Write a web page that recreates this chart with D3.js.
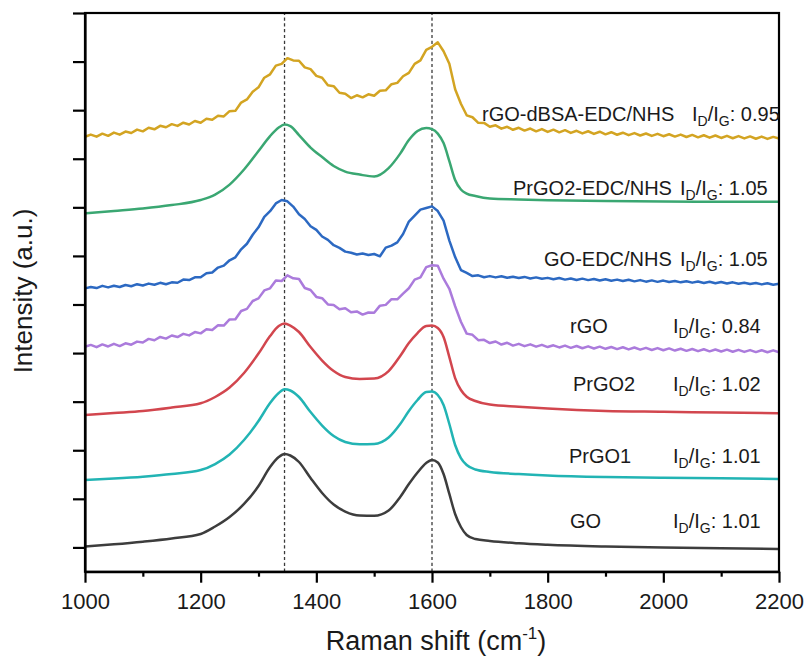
<!DOCTYPE html>
<html>
<head>
<meta charset="utf-8">
<script src="https://cdn.jsdelivr.net/npm/d3@7"></script>
<style>
  body { margin: 0; background: #ffffff; }
  svg text { font-family: Arial, "Liberation Sans", Helvetica, sans-serif; fill: #1a1a1a; }
</style>
</head>
<body>
<svg id="chart" width="808" height="663"></svg>
<script>
// Raman shift sampling (cm^-1): coarse grid for smooth spectra, 10 cm^-1 grid for noisy ones
const shiftCoarse = [1000, 1050, 1100, 1150, 1200, 1225, 1250, 1275, 1300, 1320,
  1335, 1345, 1355, 1370, 1390, 1410, 1430, 1450, 1475, 1500,
  1525, 1545, 1560, 1575, 1590, 1600, 1610, 1620, 1630, 1640,
  1650, 1660, 1675, 1700, 1750, 1800, 1900, 2000, 2100, 2200];

const shiftFine = [1000, 1010, 1020, 1030, 1040, 1050, 1060, 1070, 1080, 1090,
  1100, 1110, 1120, 1130, 1140, 1150, 1160, 1170, 1180, 1190,
  1200, 1210, 1220, 1230, 1240, 1250, 1260, 1270, 1280, 1290,
  1300, 1310, 1320, 1330, 1340, 1350, 1360, 1370, 1380, 1390,
  1400, 1410, 1420, 1430, 1440, 1450, 1460, 1470, 1480, 1490,
  1500, 1510, 1520, 1530, 1540, 1550, 1560, 1570, 1580, 1590,
  1600, 1610, 1620, 1630, 1640, 1650, 1660, 1670, 1680, 1690,
  1700, 1710, 1720, 1730, 1740, 1750, 1760, 1770, 1780, 1790,
  1800, 1810, 1820, 1830, 1840, 1850, 1860, 1870, 1880, 1890,
  1900, 1910, 1920, 1930, 1940, 1950, 1960, 1970, 1980, 1990,
  2000, 2010, 2020, 2030, 2040, 2050, 2060, 2070, 2080, 2090,
  2100, 2110, 2120, 2130, 2140, 2150, 2160, 2170, 2180, 2190,
  2200];

// Stacked intensities (a.u., offset per sample)
const goIntensity = [25.9, 28.2, 30.9, 34.2, 38.8, 46.5, 56.3, 69.7, 88.2, 107.7,
  118.0, 121.1, 119.6, 112.9, 96.4, 81.0, 69.1, 61.9, 57.8, 57.6,
  63.0, 76.9, 90.2, 102.1, 111.9, 114.9, 112.4, 100.5, 80.0, 59.4,
  46.0, 37.8, 33.6, 31.6, 29.2, 27.7, 25.9, 24.8, 24.1, 23.4];

const prgo1Intensity = [94.4, 95.9, 97.8, 100.5, 104.6, 110.8, 120.6, 135.5, 155.1, 173.6,
  183.9, 187.7, 186.5, 179.8, 164.3, 150.4, 139.6, 133.5, 131.1, 131.4,
  138.1, 152.0, 165.4, 176.7, 184.9, 185.4, 181.8, 171.5, 152.0, 130.4,
  117.0, 109.8, 105.2, 102.6, 100.5, 99.0, 97.4, 96.7, 96.1, 95.4];

const prgo2Intensity = [161.2, 163.3, 165.4, 169.0, 173.3, 179.8, 189.5, 204.5, 224.5, 242.5,
  252.8, 255.4, 253.3, 246.7, 231.2, 217.3, 206.5, 200.3, 198.3, 198.8,
  206.5, 222.0, 235.3, 245.6, 252.8, 253.3, 250.8, 241.5, 220.9, 199.3,
  187.0, 180.1, 175.7, 172.0, 169.8, 167.9, 165.4, 164.6, 163.8, 163.0];

const rgoIntensity = [231.5, 233.4, 231.1, 233.9, 231.8, 234.5, 232.2, 235.1, 233.6, 236.8,
  235.9, 239.6, 238.2, 241.6, 239.9, 243.1, 241.5, 244.8, 243.2, 246.6,
  245.3, 249.5, 248.8, 253.6, 253.3, 259.6, 259.8, 268.3, 270.5, 278.6,
  281.3, 289.5, 291.6, 299.6, 299.2, 305.0, 301.9, 301.2, 292.0, 289.9,
  282.8, 281.5, 275.1, 274.6, 270.2, 271.1, 267.0, 267.9, 264.6, 266.8,
  266.5, 273.8, 274.6, 280.5, 280.3, 286.2, 291.7, 300.6, 303.0, 313.4,
  315.4, 314.8, 301.5, 291.2, 273.2, 257.3, 245.0, 243.8, 238.3, 238.6,
  235.3, 236.9, 233.8, 235.6, 232.7, 234.5, 232.1, 234.0, 231.6, 233.5,
  231.2, 233.0, 230.8, 232.7, 230.4, 232.3, 230.0, 231.9, 229.7, 231.6,
  229.4, 231.3, 229.1, 231.0, 228.8, 230.7, 228.5, 230.4, 228.2, 230.1,
  227.9, 229.8, 227.6, 229.5, 227.3, 229.2, 227.0, 228.9, 226.8, 228.7,
  226.6, 228.5, 226.4, 228.3, 226.2, 228.1, 226.0, 227.9, 225.9, 227.8,
  225.8];

const goEdcIntensity = [291.6, 293.0, 291.9, 294.2, 292.6, 294.3, 293.0, 295.1, 293.8, 295.9,
  294.6, 296.5, 295.3, 297.3, 295.9, 297.8, 297.4, 300.6, 300.2, 303.0,
  303.1, 307.2, 308.0, 313.0, 315.0, 320.5, 323.6, 331.8, 337.5, 346.8,
  354.4, 365.2, 371.0, 379.0, 382.5, 381.2, 375.8, 367.9, 363.0, 355.6,
  351.8, 345.0, 341.5, 336.0, 333.3, 329.4, 328.3, 326.5, 327.5, 325.9,
  327.0, 324.6, 333.5, 335.6, 338.9, 347.6, 360.4, 366.5, 372.6, 374.3,
  376.0, 371.2, 361.3, 340.8, 323.8, 310.4, 307.5, 304.3, 305.0, 303.1,
  304.2, 302.9, 304.0, 302.5, 303.6, 302.2, 303.4, 301.8, 302.9, 301.5,
  302.4, 300.9, 302.2, 300.6, 301.8, 300.3, 301.6, 300.1, 301.2, 299.7,
  300.9, 299.4, 300.6, 299.1, 300.4, 298.8, 300.1, 298.5, 299.8, 298.3,
  299.6, 298.1, 299.2, 297.8, 299.0, 297.5, 298.6, 297.2, 298.4, 296.9,
  298.1, 296.6, 297.8, 296.3, 297.4, 296.0, 297.1, 295.7, 296.8, 295.4,
  296.4];

const prgo2EdcIntensity = [368.8, 371.2, 373.7, 377.3, 382.5, 388.1, 398.4, 413.9, 432.9, 448.3,
  457.1, 460.2, 458.6, 449.4, 436.5, 426.7, 417.5, 411.8, 408.7, 406.7,
  415.4, 430.3, 444.2, 453.5, 456.6, 455.5, 450.9, 441.1, 422.6, 403.1,
  393.3, 389.2, 386.6, 384.0, 383.0, 382.3, 381.4, 380.9, 380.8, 380.7];

const rgoDbsaIntensity = [447.6, 449.9, 447.7, 450.8, 448.6, 451.9, 449.8, 453.0, 451.5, 455.0,
  453.2, 456.9, 455.3, 458.9, 457.4, 460.6, 458.8, 462.1, 460.2, 463.9,
  462.0, 466.1, 465.2, 469.3, 468.6, 474.0, 474.3, 482.8, 486.1, 494.0,
  498.5, 508.4, 511.9, 520.8, 522.6, 528.5, 526.2, 525.9, 519.0, 517.2,
  510.3, 508.4, 500.6, 499.7, 492.9, 491.8, 487.5, 490.3, 488.2, 491.3,
  489.8, 495.0, 495.4, 501.7, 503.1, 509.9, 513.4, 522.7, 526.3, 537.1,
  540.2, 544.8, 535.6, 522.7, 496.5, 481.6, 469.7, 467.7, 462.0, 461.9,
  457.9, 459.4, 456.0, 457.9, 454.8, 456.9, 454.0, 456.1, 453.2, 455.5,
  452.6, 454.9, 452.2, 454.4, 451.6, 453.8, 451.1, 453.3, 450.6, 452.8,
  450.1, 452.3, 449.7, 451.8, 449.3, 451.4, 448.9, 451.0, 448.5, 450.6,
  448.2, 450.2, 447.8, 449.9, 447.4, 449.5, 447.0, 449.2, 446.7, 448.9,
  446.4, 448.6, 446.1, 448.3, 445.9, 448.0, 445.6, 447.8, 445.4, 447.5,
  445.9];

const sampleNames = ["GO", "PrGO1", "PrGO2", "rGO", "GO-EDC/NHS", "PrGO2-EDC/NHS", "rGO-dBSA-EDC/NHS"];
const idIgRatios = ["1.01", "1.01", "1.02", "0.84", "1.05", "1.05", "0.95"];
const peakPositions = [1345, 1600];   // D and G band guide lines
const xTickValues = [1000, 1200, 1400, 1600, 1800, 2000, 2200];
const xMinorTickValues = [1100, 1300, 1500, 1700, 1900, 2100];
const yTickValues = [25, 75, 125, 175, 225, 275, 325, 375, 425, 475, 525, 575];

// Appearance per sample
const sampleColors = ["#3d3d3d", "#22b4b4", "#d2464e", "#ab7bdc", "#2c69c2", "#3aa772", "#d3a422"];
const sampleGrids = [shiftCoarse, shiftCoarse, shiftCoarse, shiftFine, shiftFine, shiftCoarse, shiftFine];
const sampleValues = [goIntensity, prgo1Intensity, prgo2Intensity, rgoIntensity, goEdcIntensity, prgo2EdcIntensity, rgoDbsaIntensity];
const sampleSmooth = [true, true, true, false, false, true, false];

// Label anchors in data units: name start, ratio start (cm^-1) and baseline (a.u.)
const labelLayout = [
  { nameAt: 1838.6, ratioAt: 2016.7, level: 45.0 },
  { nameAt: 1836.9, ratioAt: 2016.7, level: 111.9 },
  { nameAt: 1843.8, ratioAt: 2016.7, level: 186.0 },
  { nameAt: 1838.6, ratioAt: 2016.7, level: 245.6 },
  { nameAt: 1793.7, ratioAt: 2028.8, level: 314.6 },
  { nameAt: 1740.1, ratioAt: 2028.8, level: 387.6 },
  { nameAt: 1686.5, ratioAt: 2049.6, level: 463.8 }
];

const svg = d3.select("#chart");
const width = 808, height = 663;
const plot = { left: 85, right: 779, top: 13, bottom: 571.7 };

svg.append("rect").attr("width", width).attr("height", height).attr("fill", "#ffffff");

const x = d3.scaleLinear().domain([1000, 2200]).range([plot.left, plot.right]);
const y = d3.scaleLinear().domain([0, 575]).range([plot.bottom, plot.top]);

// Dashed guide lines at the D and G bands
svg.append("g").selectAll("line")
  .data(peakPositions)
  .join("line")
  .attr("x1", d => x(d)).attr("x2", d => x(d))
  .attr("y1", y(0)).attr("y2", y(575))
  .attr("stroke", "#3a3a3a")
  .attr("stroke-width", 1.3)
  .attr("stroke-dasharray", "3.2,2.6");

// Spectra
const series = sampleNames.map((name, i) => ({
  name,
  color: sampleColors[i],
  smooth: sampleSmooth[i],
  points: sampleGrids[i].map((s, j) => [s, sampleValues[i][j]])
}));

svg.append("g").selectAll("path")
  .data(series)
  .join("path")
  .attr("fill", "none")
  .attr("stroke", d => d.color)
  .attr("stroke-width", 2.5)
  .attr("stroke-linejoin", "round")
  .attr("d", d => d3.line()
    .x(p => x(p[0]))
    .y(p => y(p[1]))
    .curve(d.smooth ? d3.curveMonotoneX : d3.curveLinear)(d.points));

// Axes
const axisStroke = 2.2;

const xAxis = svg.append("g")
  .attr("transform", `translate(0,${plot.bottom})`)
  .call(d3.axisBottom(x).tickValues(xTickValues).tickSize(11).tickSizeOuter(0)
    .tickPadding(11).tickFormat(d3.format("d")));
xAxis.select(".domain").attr("stroke", "#000").attr("stroke-width", axisStroke);
xAxis.selectAll(".tick line").attr("stroke", "#000").attr("stroke-width", axisStroke);
xAxis.selectAll(".tick text").attr("font-size", 22).attr("fill", "#1a1a1a");

const xMinor = svg.append("g")
  .attr("transform", `translate(0,${plot.bottom})`)
  .call(d3.axisBottom(x).tickValues(xMinorTickValues).tickSize(5).tickFormat(() => ""));
xMinor.select(".domain").remove();
xMinor.selectAll(".tick line").attr("stroke", "#000").attr("stroke-width", axisStroke);

const yAxis = svg.append("g")
  .attr("transform", `translate(${plot.left},0)`)
  .call(d3.axisLeft(y).tickValues(yTickValues).tickSize(12).tickSizeOuter(0).tickFormat(() => ""));
yAxis.select(".domain").attr("stroke", "#000").attr("stroke-width", axisStroke);
yAxis.selectAll(".tick line").attr("stroke", "#000").attr("stroke-width", axisStroke);

// Plot frame
svg.append("rect")
  .attr("x", x(1000))
  .attr("y", y(575))
  .attr("width", x(2200) - x(1000))
  .attr("height", y(0) - y(575))
  .attr("fill", "none")
  .attr("stroke", "#000")
  .attr("stroke-width", axisStroke);

// Axis titles
const xTitle = svg.append("text")
  .attr("x", (plot.left + plot.right) / 2 + 4)
  .attr("y", 650)
  .attr("text-anchor", "middle")
  .attr("font-size", 27);
xTitle.append("tspan").text("Raman shift (cm");
xTitle.append("tspan").attr("font-size", 17).attr("dy", -11).text("-1");
xTitle.append("tspan").attr("dy", 11).text(")");

svg.append("text")
  .attr("transform", "translate(32,291) rotate(-90)")
  .attr("text-anchor", "middle")
  .attr("font-size", 26)
  .text("Intensity (a.u.)");

// Sample names and I_D/I_G ratios
const labels = svg.append("g").selectAll("g")
  .data(series.map((s, i) => ({ name: s.name, ratio: idIgRatios[i], pos: labelLayout[i] })))
  .join("g");

labels.append("text")
  .attr("x", d => x(d.pos.nameAt))
  .attr("y", d => y(d.pos.level))
  .attr("font-size", 20)
  .text(d => d.name);

const ratioText = labels.append("text")
  .attr("x", d => x(d.pos.ratioAt))
  .attr("y", d => y(d.pos.level))
  .attr("font-size", 20);
ratioText.append("tspan").text("I");
ratioText.append("tspan").attr("font-size", 14).attr("dy", 5).text("D");
ratioText.append("tspan").attr("dy", -5).text("/I");
ratioText.append("tspan").attr("font-size", 14).attr("dy", 5).text("G");
ratioText.append("tspan").attr("dy", -5).text(d => ": " + d.ratio);
</script>
</body>
</html>
